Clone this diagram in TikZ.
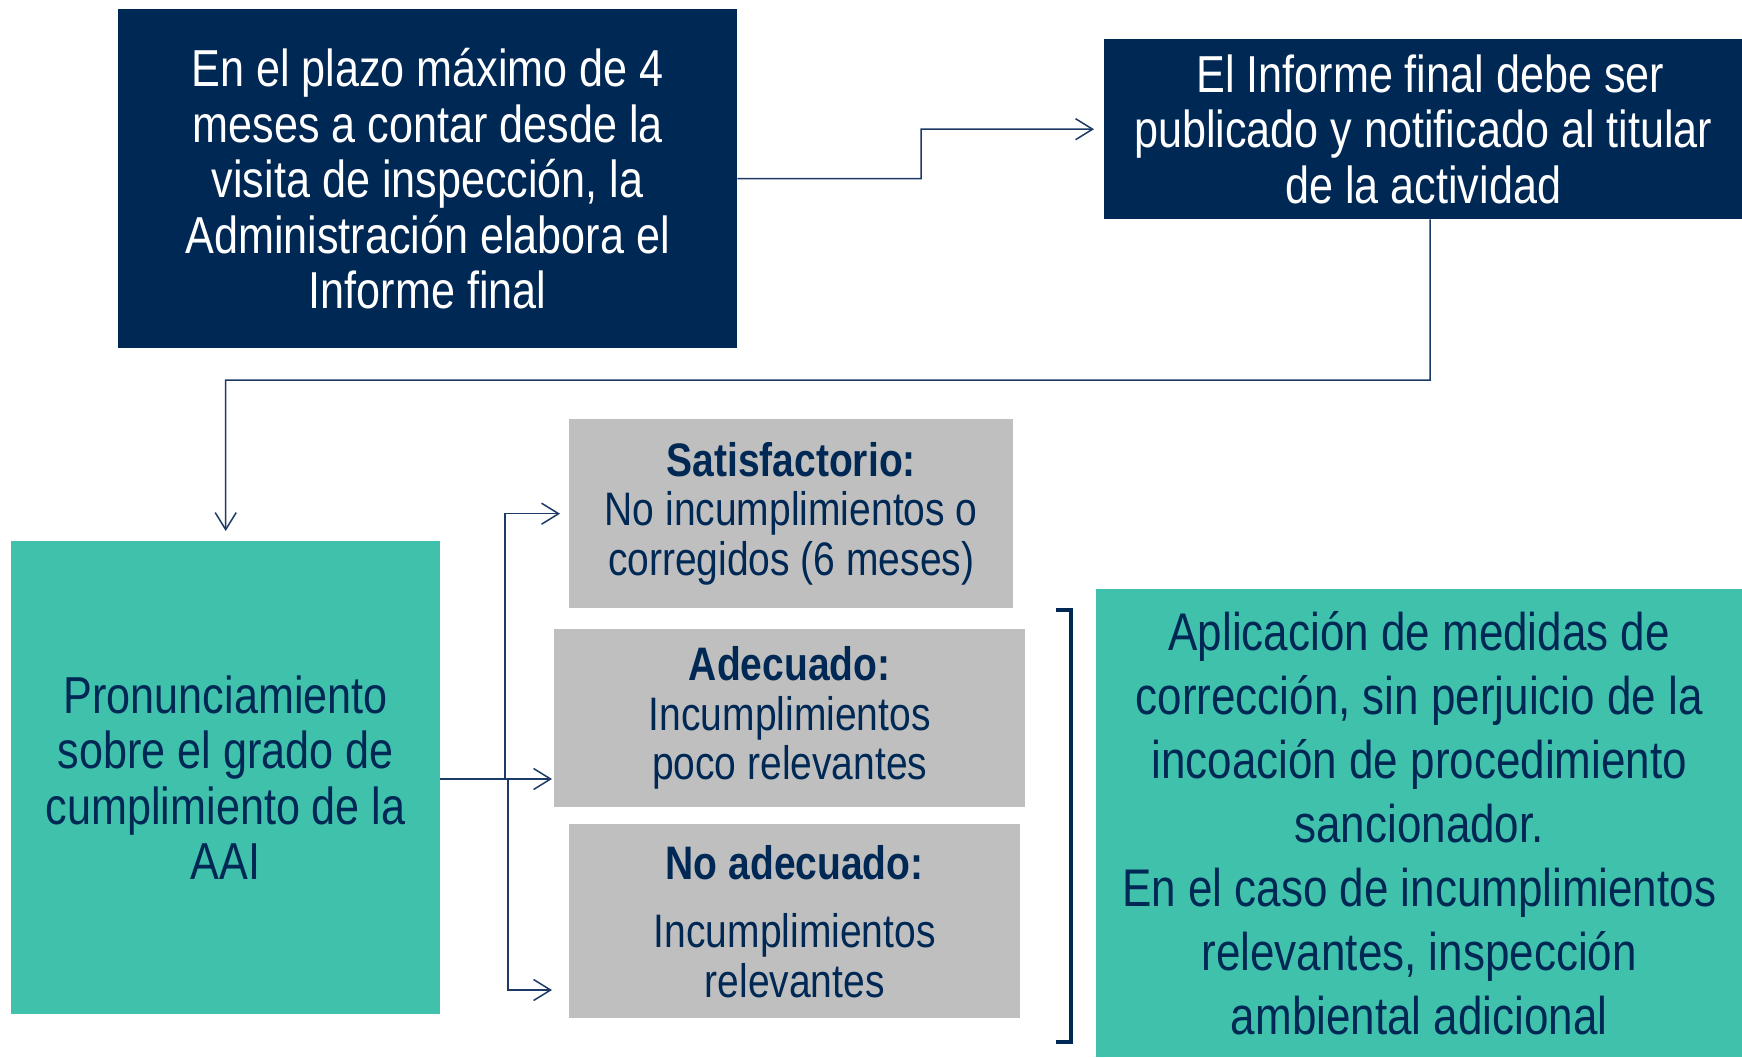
\documentclass[tikz,border=0pt]{standalone}
\usepackage{fontspec}
\setmainfont{Liberation Sans}[FakeStretch=0.83]
\usetikzlibrary{arrows.meta}
\definecolor{navy}{HTML}{002855}
\definecolor{tealc}{HTML}{40C1AC}
\definecolor{grayc}{HTML}{BFBFBF}
\definecolor{linec}{HTML}{1B3A66}
\begin{document}
\begin{tikzpicture}[x=1pt,y=-1pt,
  box/.style={anchor=north west, inner sep=0pt, align=center,
    execute at begin node={\spaceskip=0.23em\relax}},
  bigfont/.style={font=\fontsize{52}{55.5}\selectfont},
  midfont/.style={font=\fontsize{47}{49.5}\selectfont},
  rightfont/.style={font=\fontsize{53}{64}\selectfont},
  darkbox/.style={box, fill=navy, text=white, bigfont},
  tealbox/.style={box, fill=tealc, text=navy},
  graybox/.style={box, fill=grayc, text=navy, midfont},
  conn/.style={draw=linec, line width=1.5pt, -{Straight Barb[length=17pt,width=21pt,line width=1.5pt]}},
  brack/.style={draw=navy, line width=3.5pt}
]
\useasboundingbox (0,0) rectangle (1742,1057);

\node[darkbox, minimum width=619pt, minimum height=339pt, text width=600pt] (b1) at (118,9)
  {En el plazo máximo de 4\\meses a contar desde la\\visita de inspección, la\\Administración elabora el\\Informe final};

\node[darkbox, minimum width=638pt, minimum height=180pt, text width=630pt] (b2) at (1104,39)
  {\hspace*{14pt}El Informe final debe ser\\publicado y notificado al titular\\de la actividad};

\node[tealbox, bigfont, minimum width=429pt, minimum height=473pt, text width=420pt] (tl) at (11,541)
  {Pronunciamiento\\sobre el grado de\\cumplimiento de la\\AAI};

\node[graybox, minimum width=444pt, minimum height=189pt, text width=440pt] (g1) at (569,419)
  {\textbf{Satisfactorio:}\\No incumplimientos o\\corregidos (6 meses)};

\node[graybox, minimum width=471pt, minimum height=178pt, text width=460pt] (g2) at (554,629)
  {\textbf{Adecuado:}\\Incumplimientos\\poco relevantes};

\node[graybox, minimum width=451pt, minimum height=194pt, text width=440pt] (g3) at (569,824)
  {\textbf{No adecuado:}\\[19pt]Incumplimientos\\relevantes};

\node[tealbox, rightfont, minimum width=646pt, minimum height=468pt, text width=640pt] (tr) at (1096,589)
  {Aplicación de medidas de\\corrección, sin perjuicio de la\\incoación de procedimiento\\sancionador.\\En el caso de incumplimientos\\relevantes, inspección\\ambiental adicional};

% connectors
\draw[conn] (b1.east) -- (921,178.5) |- ([xshift=-10pt]b2.west);
\draw[conn] ([xshift=7pt]b2.south) -- (1430,380) -| ([yshift=10pt]tl.north);

\coordinate (j1) at (505,779);
\coordinate (j2) at (508,779);
\coordinate (tipmid) at (552,779);
\coordinate (tiplow) at (552,990);
\draw[draw=linec, line width=1.5pt] (tl.east |- j1) -- (j1);
\draw[conn] (j1) |- ([xshift=-9pt]g1.west);
\draw[conn] (j1) -- (tipmid);
\draw[conn] (j2) |- (tiplow);

% bracket
\draw[brack] (1056,610) -- (1071,610) -- (1071,1042) -- (1056,1042);
\end{tikzpicture}
\end{document}
